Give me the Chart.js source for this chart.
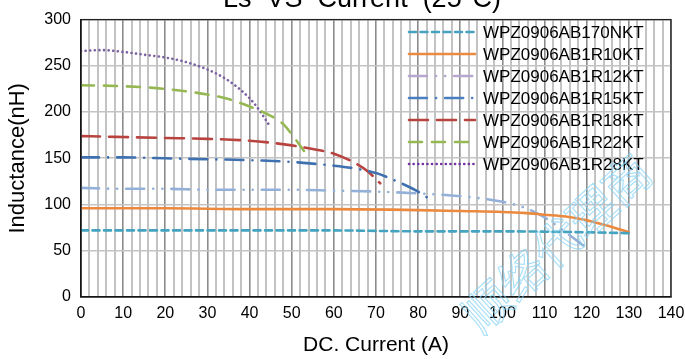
<!DOCTYPE html>
<html lang="en">
<head>
    <script src="https://cdn.jsdelivr.net/npm/chart.js@4.4.0/dist/chart.umd.min.js"></script>
    <meta charset="UTF-8">
    <title>L VS Current</title>
    <style>
        body {
            margin: 0;
            padding: 0;
            background-color: #fff;
        }

        .container {
            width: 685px;
            height: 359px;
            position: relative;
        }
    </style>
</head>
<body>
    <div class="container">
        <canvas id="lChart" width="685" height="359"></canvas>
    </div>
    <script>
        // Curvas (corriente en A, inductancia en nH)
        const names = ['WPZ0906AB170NKT', 'WPZ0906AB1R10KT', 'WPZ0906AB1R12KT', 'WPZ0906AB1R15KT',
                       'WPZ0906AB1R18KT', 'WPZ0906AB1R22KT', 'WPZ0906AB1R28KT'];

        const cur170 = [0, 20, 40, 60, 80, 100, 120, 130];
        const ind170 = [72, 72, 72, 72, 71, 71, 70, 69];

        const cur10 = [0, 20, 40, 60, 80, 90, 100, 105, 110, 115, 120, 125, 130];
        const ind10 = [96, 96, 95, 95, 94, 93, 92, 91, 89, 87, 83, 77, 70];

        const cur12 = [0, 10, 20, 30, 40, 50, 60, 70, 80, 90, 100, 105, 110, 115, 120];
        const ind12 = [118, 117, 117, 116, 116, 116, 115, 114, 112, 109, 103, 97, 86, 70, 53];

        const cur15 = [0, 10, 20, 30, 40, 50, 60, 65, 70, 75, 80, 82];
        const ind15 = [151, 151, 150, 149, 148, 146, 142, 139, 134, 125, 114, 108];

        const cur18 = [0, 10, 20, 30, 40, 50, 55, 60, 65, 68, 71];
        const ind18 = [174, 173, 172, 171, 169, 164, 160, 155, 145, 136, 123];

        const cur22 = [0, 10, 20, 30, 35, 40, 45, 48, 51, 54];
        const ind22 = [229, 228, 225, 219, 214, 206, 196, 187, 170, 151];

        const cur28 = [0, 5, 10, 15, 20, 25, 30, 35, 40, 42, 44.5];
        const ind28 = [266, 267, 265, 262, 259, 254, 246, 234, 215, 204, 187];

        const yTicks = [0, 50, 100, 150, 200, 250, 300];

        const FONT = 'Arial, "Liberation Sans", sans-serif';

        function pts(xs, ys) {
            return xs.map((x, i) => ({ x: x, y: ys[i] }));
        }

        function serie(i, xs, ys, color, dash, legendColor) {
            return {
                label: names[i],
                data: pts(xs, ys),
                borderColor: color,
                legendColor: legendColor || color,
                borderWidth: 2.6,
                borderDash: dash,
                borderCapStyle: 'round',
                pointRadius: 0,
                fill: false,
                cubicInterpolationMode: 'monotone'
            };
        }

        // Título recortado arriba, leyenda dentro del área y marca de agua
        const extras = {
            id: 'extras',
            afterDraw(chart) {
                const c = chart.ctx;
                const a = chart.chartArea;

                // marco completo del área
                c.save();
                c.strokeStyle = '#222';
                c.lineWidth = 1.3;
                c.strokeRect(a.left, a.top, a.right - a.left, a.bottom - a.top);
                c.restore();

                // título
                c.save();
                c.font = '27px ' + FONT;
                c.fillStyle = '#000';
                c.textAlign = 'center';
                c.textBaseline = 'alphabetic';
                c.fillText('Ls  VS  Current  (25°C)', 362, 7);
                c.restore();

                // leyenda
                chart.data.datasets.forEach((ds, i) => {
                    const y = 32 + i * 22;
                    c.save();
                    c.strokeStyle = ds.legendColor;
                    c.lineWidth = 2.6;
                    c.lineCap = 'round';
                    c.setLineDash(ds.borderDash);
                    c.beginPath();
                    c.moveTo(409, y);
                    c.lineTo(475, y);
                    c.stroke();
                    c.setLineDash([]);
                    c.font = '17px ' + FONT;
                    c.fillStyle = '#000';
                    c.textAlign = 'left';
                    c.textBaseline = 'middle';
                    c.fillText(ds.label, 483, y + 1);
                    c.restore();
                });

                // marca de agua
                c.save();
                c.translate(470, 322);
                c.rotate(-0.74);
                c.font = '47px "Noto Sans CJK SC"';
                c.strokeStyle = 'rgba(130, 210, 245, 0.7)';
                c.lineWidth = 1.1;
                c.textBaseline = 'middle';
                c.strokeText('顺络代理商', 0, 0);
                c.restore();
            }
        };

        const ctx = document.getElementById('lChart').getContext('2d');

        const lChart = new Chart(ctx, {
            type: 'line',
            data: {
                datasets: [
                    serie(0, cur170, ind170, '#43a3c0', [7, 4.5]),
                    serie(1, cur10, ind10, '#eb8a3e', []),
                    serie(2, cur12, ind12, '#93b1d8', [18, 9, 0.1, 9, 0.1, 9], '#b7a6cf'),
                    serie(3, cur15, ind15, '#3f71b0', [18, 9, 0.1, 9], '#4a80c2'),
                    serie(4, cur18, ind18, '#b8433f', [19, 9]),
                    serie(5, cur22, ind22, '#96b853', [13, 10]),
                    serie(6, cur28, ind28, '#7d62a3', [0.1, 4.5], '#7132a2')
                ]
            },
            plugins: [extras],
            options: {
                responsive: false,
                animation: false,
                layout: {
                    padding: { top: 10, right: 14, left: 0, bottom: 0 }
                },
                plugins: {
                    legend: { display: false },
                    title: { display: false },
                    tooltip: { enabled: false }
                },
                scales: {
                    x: {
                        type: 'linear',
                        min: 0,
                        max: 140,
                        afterFit(scale) {
                            scale.height = 62;
                            scale.paddingLeft = 0;
                            scale.paddingRight = 0;
                        },
                        ticks: {
                            stepSize: 2,
                            autoSkip: false,
                            maxRotation: 0,
                            padding: 7,
                            color: '#000',
                            font: { family: FONT, size: 16 },
                            callback: (v) => (v % 10 === 0 ? String(v) : '')
                        },
                        grid: {
                            drawTicks: false,
                            color: (c) => (c.tick && c.tick.value % 10 === 0 ? '#8c8c8c' : '#c3c3c3'),
                            lineWidth: (c) => (c.tick && c.tick.value % 10 === 0 ? 1.6 : 2)
                        },
                        border: { color: '#000', width: 1.3 },
                        title: {
                            display: true,
                            text: 'DC. Current (A)',
                            color: '#000',
                            font: { family: FONT, size: 21 },
                            padding: { top: 0, bottom: 1.5 }
                        }
                    },
                    y: {
                        min: 0,
                        max: 300,
                        afterFit(scale) { scale.width = 81; },
                        afterBuildTicks(scale) {
                            scale.ticks = yTicks.map(v => ({ value: v }));
                        },
                        ticks: {
                            padding: 10,
                            color: '#000',
                            font: { family: FONT, size: 16 }
                        },
                        grid: {
                            drawTicks: false,
                            color: '#c3c3c3',
                            lineWidth: 1.6
                        },
                        border: { color: '#000', width: 1.3 },
                        title: {
                            display: true,
                            text: 'Inductance(nH)',
                            color: '#000',
                            font: { family: FONT, size: 22 },
                            padding: { top: 5, bottom: 0 }
                        }
                    }
                }
            }
        });
    </script>
</body>
</html>
